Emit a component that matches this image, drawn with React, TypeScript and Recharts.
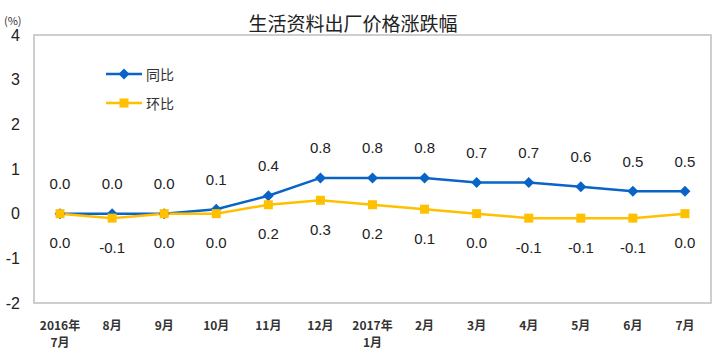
import React from 'react'
import { LineChart, Line, XAxis, YAxis, ReferenceArea, LabelList } from 'recharts'

const months = ['2016年\n7月', '8月', '9月', '10月', '11月', '12月', '2017年\n1月', '2月', '3月', '4月', '5月', '6月', '7月']
const yoy = [0.0, 0.0, 0.0, 0.1, 0.4, 0.8, 0.8, 0.8, 0.7, 0.7, 0.6, 0.5, 0.5]
const mom = [0.0, -0.1, 0.0, 0.0, 0.2, 0.3, 0.2, 0.1, 0.0, -0.1, -0.1, -0.1, 0.0]
const yTicks = [-2, -1, 0, 1, 2, 3, 4]
const seriesNames = ['同比', '环比']
const title = '生活资料出厂价格涨跌幅'

const BLUE = '#0A64C8'
const YELLOW = '#FFC000'
const CJK = '"Noto Sans CJK SC", sans-serif'
const NUM = '"Liberation Sans", Arial, sans-serif'

const data = months.map((m, i) => ({ idx: i, month: m, yoy: yoy[i], mom: mom[i] }))
const xTicks = months.map((_, i) => i)
const sepTicks = months.slice(1).map((_, i) => i + 0.5)

const Diamond = (props: any) => {
  const { cx, cy } = props
  if (cx == null || cy == null) return null
  const r = 5.5
  return (
    <polygon
      points={`${cx},${cy - r} ${cx + r},${cy} ${cx},${cy + r} ${cx - r},${cy}`}
      fill={BLUE}
    />
  )
}

const Square = (props: any) => {
  const { cx, cy } = props
  if (cx == null || cy == null) return null
  return <rect x={cx - 4.5} y={cy - 4.5} width={9} height={9} fill={YELLOW} />
}

const MonthTick = (props: any) => {
  const { x, y, payload } = props
  const lines = months[payload.value].split('\n')
  return (
    <text x={x} y={y + 19} textAnchor="middle" fill="#333" fontSize={12} fontWeight="bold" fontFamily={CJK}>
      {lines.map((l, i) => (
        <tspan key={i} x={x} dy={i === 0 ? 0 : 17}>
          {l}
        </tspan>
      ))}
    </text>
  )
}

const makeLabel = (dy: number) => (p: any) => (
  <text
    x={p.x}
    y={p.y + dy}
    textAnchor="middle"
    dominantBaseline="central"
    fill="#222"
    fontSize={15}
    fontFamily={NUM}
  >
    {Number(p.value).toFixed(1)}
  </text>
)

function LegendRow({ name, color, square, top }: { name: string; color: string; square: boolean; top: number }) {
  return (
    <div style={{ position: 'absolute', left: 106, top: top - 10, height: 20, display: 'flex', alignItems: 'center' }}>
      <svg width={36} height={20}>
        <line x1={0} y1={10} x2={36} y2={10} stroke={color} strokeWidth={2.5} />
        {square ? (
          <rect x={13.5} y={5.5} width={9} height={9} fill={color} />
        ) : (
          <polygon points="18,4.5 23.5,10 18,15.5 12.5,10" fill={color} />
        )}
      </svg>
      <span style={{ marginLeft: 4, fontSize: 14, color: '#333', fontFamily: CJK }}>{name}</span>
    </div>
  )
}

export default function App() {
  return (
    <div style={{ position: 'absolute', left: 0, top: 0, width: 724, height: 360, background: '#fff' }}>
      <div
        style={{
          position: 'absolute',
          left: 353,
          top: 9,
          transform: 'translateX(-50%)',
          whiteSpace: 'nowrap',
          fontSize: 19,
          color: '#222',
          fontFamily: CJK,
          lineHeight: '28px',
        }}
      >
        {title}
      </div>
      <div style={{ position: 'absolute', left: 4, top: 12, fontSize: 11, color: '#333', fontFamily: CJK }}>(%)</div>
      <LineChart width={724} height={360} data={data} margin={{ top: 35, right: 13, bottom: 0, left: 0 }}>
        <XAxis
          dataKey="idx"
          type="number"
          domain={[-0.5, 12.5]}
          ticks={xTicks}
          interval={0}
          tick={<MonthTick />}
          tickLine={false}
          axisLine={false}
          height={57}
        />
        <XAxis
          xAxisId="sep"
          dataKey="idx"
          type="number"
          domain={[-0.5, 12.5]}
          ticks={sepTicks}
          interval={0}
          mirror
          tick={false}
          tickSize={5}
          tickLine={{ stroke: '#BFBFBF' }}
          axisLine={false}
        />
        <YAxis
          domain={[-2, 4]}
          ticks={yTicks}
          interval={0}
          width={34}
          tickLine={false}
          axisLine={false}
          tick={{ fill: '#222', fontSize: 16, fontFamily: NUM }}
          tickMargin={8}
        />
        <YAxis
          yAxisId="sep"
          domain={[-2, 4]}
          ticks={yTicks}
          interval={0}
          mirror
          tick={false}
          tickSize={4}
          tickLine={{ stroke: '#BFBFBF' }}
          axisLine={false}
        />
        <ReferenceArea x1={-0.5} x2={12.5} y1={-2} y2={4} stroke="#BFBFBF" strokeWidth={1.5} fill="none" />
        <Line
          dataKey="yoy"
          name={seriesNames[0]}
          stroke={BLUE}
          strokeWidth={2.5}
          dot={<Diamond />}
          activeDot={false}
          isAnimationActive={false}
        >
          <LabelList dataKey="yoy" content={makeLabel(-30)} />
        </Line>
        <Line
          dataKey="mom"
          name={seriesNames[1]}
          stroke={YELLOW}
          strokeWidth={2.5}
          dot={<Square />}
          activeDot={false}
          isAnimationActive={false}
        >
          <LabelList dataKey="mom" content={makeLabel(29)} />
        </Line>
      </LineChart>
      <LegendRow name={seriesNames[0]} color={BLUE} square={false} top={74} />
      <LegendRow name={seriesNames[1]} color={YELLOW} square top={103} />
    </div>
  )
}
